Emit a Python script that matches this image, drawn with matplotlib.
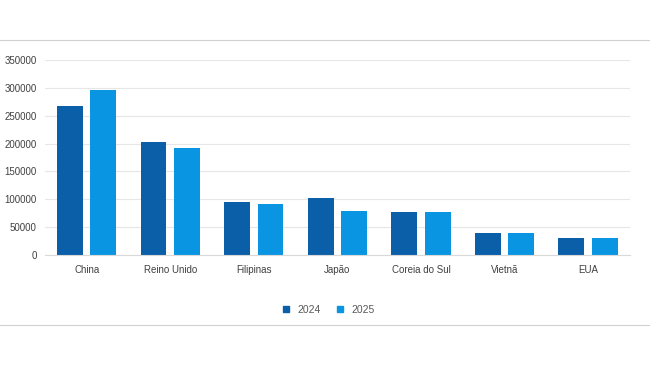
import matplotlib.pyplot as plt
import numpy as np
from matplotlib.lines import Line2D

plt.rcParams['font.family'] = ['Liberation Sans', 'DejaVu Sans']

countries = ["China", "Reino Unido", "Filipinas", "Japão", "Coreia do Sul", "Vietnã", "EUA"]
vals_2024 = [268000, 203000, 96000, 102000, 77000, 40000, 30500]
vals_2025 = [296000, 192000, 92000, 80000, 77000, 39000, 30500]
yticks = [0, 50000, 100000, 150000, 200000, 250000, 300000, 350000]

c24 = "#0B5FA8"
c25 = "#0A95E3"

fig = plt.figure(figsize=(6.5, 3.66), dpi=100)
ax = fig.add_axes([0.069, 0.303, 0.900, 0.533])

x = np.arange(len(countries))
w = 0.31
ax.bar(x - 0.2, vals_2024, w, color=c24, label="2024", zorder=2)
ax.bar(x + 0.2, vals_2025, w, color=c25, label="2025", zorder=2)

ax.set_xlim(-0.5, len(countries) - 0.5)
ax.set_ylim(0, 350000)
ax.set_yticks(yticks)
ax.set_yticklabels([str(t) for t in yticks])
ax.set_xticks(x)
ax.set_xticklabels(countries)
ax.tick_params(axis="both", length=0, labelsize=7, colors="#404040")
ax.tick_params(axis="y", pad=6)
ax.tick_params(axis="x", pad=7)
ax.grid(axis="y", color="#E6E6E6", linewidth=0.8, zorder=0)
for s in ["top", "right", "left"]:
    ax.spines[s].set_visible(False)
ax.spines["bottom"].set_color("#D9D9D9")

fig.legend(handles=[Line2D([], [], marker="s", ls="", color=c24, markersize=5, label="2024"),
                    Line2D([], [], marker="s", ls="", color=c25, markersize=5, label="2025")],
           loc="center", bbox_to_anchor=(0.5, 0.153), ncol=2, frameon=False,
           fontsize=7.5, handletextpad=0.1, columnspacing=0.8, labelcolor="#595959")

fig.add_artist(Line2D([0, 1], [1 - 40 / 366] * 2, color="#D0D0D0", lw=0.8, transform=fig.transFigure))
fig.add_artist(Line2D([0, 1], [1 - 325 / 366] * 2, color="#D0D0D0", lw=0.8, transform=fig.transFigure))

fig.savefig("out.png", dpi=100)
